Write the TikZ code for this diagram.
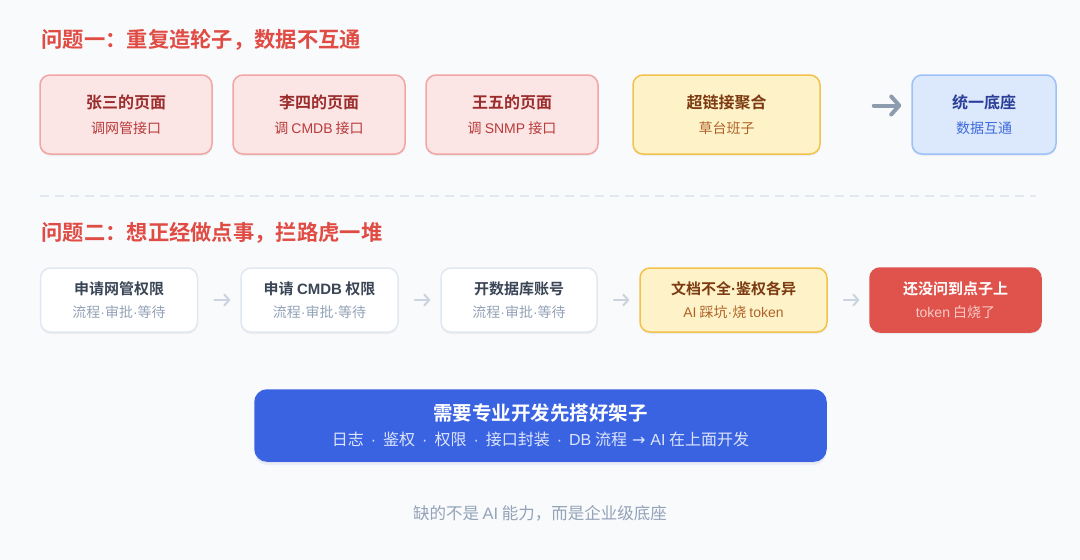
\documentclass[tikz,border=0pt]{standalone}
\usepackage{fontspec}
\setmainfont{Noto Sans CJK SC}[BoldFont={Noto Sans CJK SC Bold}]
\newfontfamily\latinfont{Liberation Sans}
\newfontfamily\symfont{DejaVu Sans}
\usepackage{xcolor}
\usepackage{tikz}
\usetikzlibrary{arrows.meta,shadows}

\definecolor{bgc}{HTML}{F8FAFC}
\definecolor{alert}{HTML}{E04B44}
\definecolor{pinkfill}{HTML}{FCE5E5}
\definecolor{pinkline}{HTML}{F2A5A5}
\definecolor{pinktitle}{HTML}{9B2C2C}
\definecolor{pinksub}{HTML}{B83A3A}
\definecolor{amberfill}{HTML}{FEF3C8}
\definecolor{amberline}{HTML}{F4C24C}
\definecolor{ambertitle}{HTML}{7C3A12}
\definecolor{ambersub}{HTML}{B0622A}
\definecolor{bluefill}{HTML}{DCE8FB}
\definecolor{blueline}{HTML}{9DC1F8}
\definecolor{bluetitle}{HTML}{2B3F99}
\definecolor{bluesub}{HTML}{3D6BDB}
\definecolor{greyline}{HTML}{E2E8F0}
\definecolor{slatetitle}{HTML}{3A4556}
\definecolor{slatesub}{HTML}{94A3B8}
\definecolor{redfill}{HTML}{DF534C}
\definecolor{redsub}{HTML}{F9C9C6}
\definecolor{royal}{HTML}{3A63E2}
\definecolor{royalsub}{HTML}{DCE4FB}

\newcommand{\subtxt}[2]{{\mdseries\fontsize{14}{18}\selectfont\color{#1}#2}}
\newcommand{\lt}[1]{{\latinfont #1}}
\newcommand{\md}{{\latinfont ·}}
\newcommand{\sepdot}{\hspace{7pt}{\latinfont ·}\hspace{7pt}}

\begin{document}
\begin{tikzpicture}[x=1pt,y=-1pt,
  card/.style={rounded corners=10pt, line width=1.5pt, align=center, inner sep=0pt,
    font=\bfseries\fontsize{16}{20}\selectfont,
    drop shadow={shadow xshift=0pt,shadow yshift=-2pt,opacity=.05,fill=black}},
  topcard/.style={card, minimum height=79pt},
  lowcard/.style={card, minimum height=64pt, font=\bfseries\fontsize{15}{19}\selectfont},
  pinkcard/.style={topcard, fill=pinkfill, draw=pinkline, text=pinktitle, minimum width=172pt},
  ambercard/.style={fill=amberfill, draw=amberline, text=ambertitle},
  bluecard/.style={topcard, fill=bluefill, draw=blueline, text=bluetitle},
  whitecard/.style={lowcard, fill=white, draw=greyline, text=slatetitle},
  heading/.style={anchor=west, text=alert, font=\bfseries\fontsize{21.3}{25}\selectfont},
  bigarrow/.style={draw=slatesub!95!black, line width=4pt, line cap=round,
    -{Straight Barb[length=8pt,width=18pt,line cap=round,line join=round]}},
  smallarrow/.style={draw=greyline!70!slatesub, line width=2pt, line cap=round,
    shorten <=16pt, shorten >=10pt,
    -{Straight Barb[length=5pt,width=11pt,line cap=round,line join=round]}}]

  \fill[bgc] (0,0) rectangle (1080,560);
  \useasboundingbox (0,0) rectangle (1080,560);

  \node[heading] (h1) at (38,40) {问题一：重复造轮子，数据不互通};

  \node[pinkcard] (zs) at (126,114.5) {张三的页面\\[5pt]\subtxt{pinksub}{调网管接口}};
  \node[pinkcard] (ls) at (319,114.5) {李四的页面\\[5pt]\subtxt{pinksub}{调 \lt{CMDB} 接口}};
  \node[pinkcard] (ww) at (512,114.5) {王五的页面\\[5pt]\subtxt{pinksub}{调 \lt{SNMP} 接口}};
  \node[topcard, ambercard, minimum width=187pt] (hl) at (726.5,114.5) {超链接聚合\\[5pt]\subtxt{ambersub}{草台班子}};
  \node[bluecard, minimum width=144pt] (base) at (984,114.5) {统一底座\\[5pt]\subtxt{bluesub}{数据互通}};
  \draw[bigarrow] ([xshift=53pt,yshift=9pt]hl.east) -- ([xshift=-10pt,yshift=9pt]base.west);

  \draw[greyline, line width=1.5pt, dash pattern=on 9pt off 6pt] (40,196) -- (1036,196);

  \node[heading] (h2) at (38,233) {问题二：想正经做点事，拦路虎一堆};

  \node[whitecard, minimum width=157pt] (p1) at (119,300) {申请网管权限\\[4pt]\subtxt{slatesub}{流程\md 审批\md 等待}};
  \node[whitecard, minimum width=157pt] (p2) at (319.5,300) {申请 \lt{CMDB} 权限\\[4pt]\subtxt{slatesub}{流程\md 审批\md 等待}};
  \node[whitecard, minimum width=156pt] (p3) at (519,300) {开数据库账号\\[4pt]\subtxt{slatesub}{流程\md 审批\md 等待}};
  \node[lowcard, ambercard, minimum width=187pt] (p4) at (733.5,300) {文档不全\md 鉴权各异\\[4pt]\subtxt{ambersub}{\lt{AI} 踩坑\md 烧 \lt{token}}};
  \node[lowcard, fill=redfill, draw=redfill, text=white, minimum width=171pt] (p5) at (955.5,300) {还没问到点子上\\[4pt]\subtxt{redsub}{\lt{token} 白烧了}};
  \draw[smallarrow] (p1.east) -- (p2.west);
  \draw[smallarrow] (p2.east) -- (p3.west);
  \draw[smallarrow] (p3.east) -- (p4.west);
  \draw[smallarrow] (p4.east) -- (p5.west);

  \node[card, rounded corners=12pt, fill=royal, draw=royal, text=white,
    minimum width=571pt, minimum height=71pt, font=\bfseries\fontsize{19.5}{23}\selectfont,
    drop shadow={shadow xshift=0pt,shadow yshift=-4pt,opacity=.08,fill=royal}] (need) at (540.5,425.5)
    {需要专业开发先搭好架子\\[2pt]{\mdseries\fontsize{16}{19}\selectfont\color{royalsub}日志\sepdot 鉴权\sepdot 权限\sepdot 接口封装\sepdot\lt{DB} 流程\hspace{5pt}{\symfont →}\hspace{5pt}\lt{AI} 在上面开发}};

  \node[text=slatesub, font=\fontsize{16.5}{20}\selectfont] (foot) at (540,513) {缺的不是 \lt{AI} 能力，而是企业级底座};
\end{tikzpicture}
\end{document}
